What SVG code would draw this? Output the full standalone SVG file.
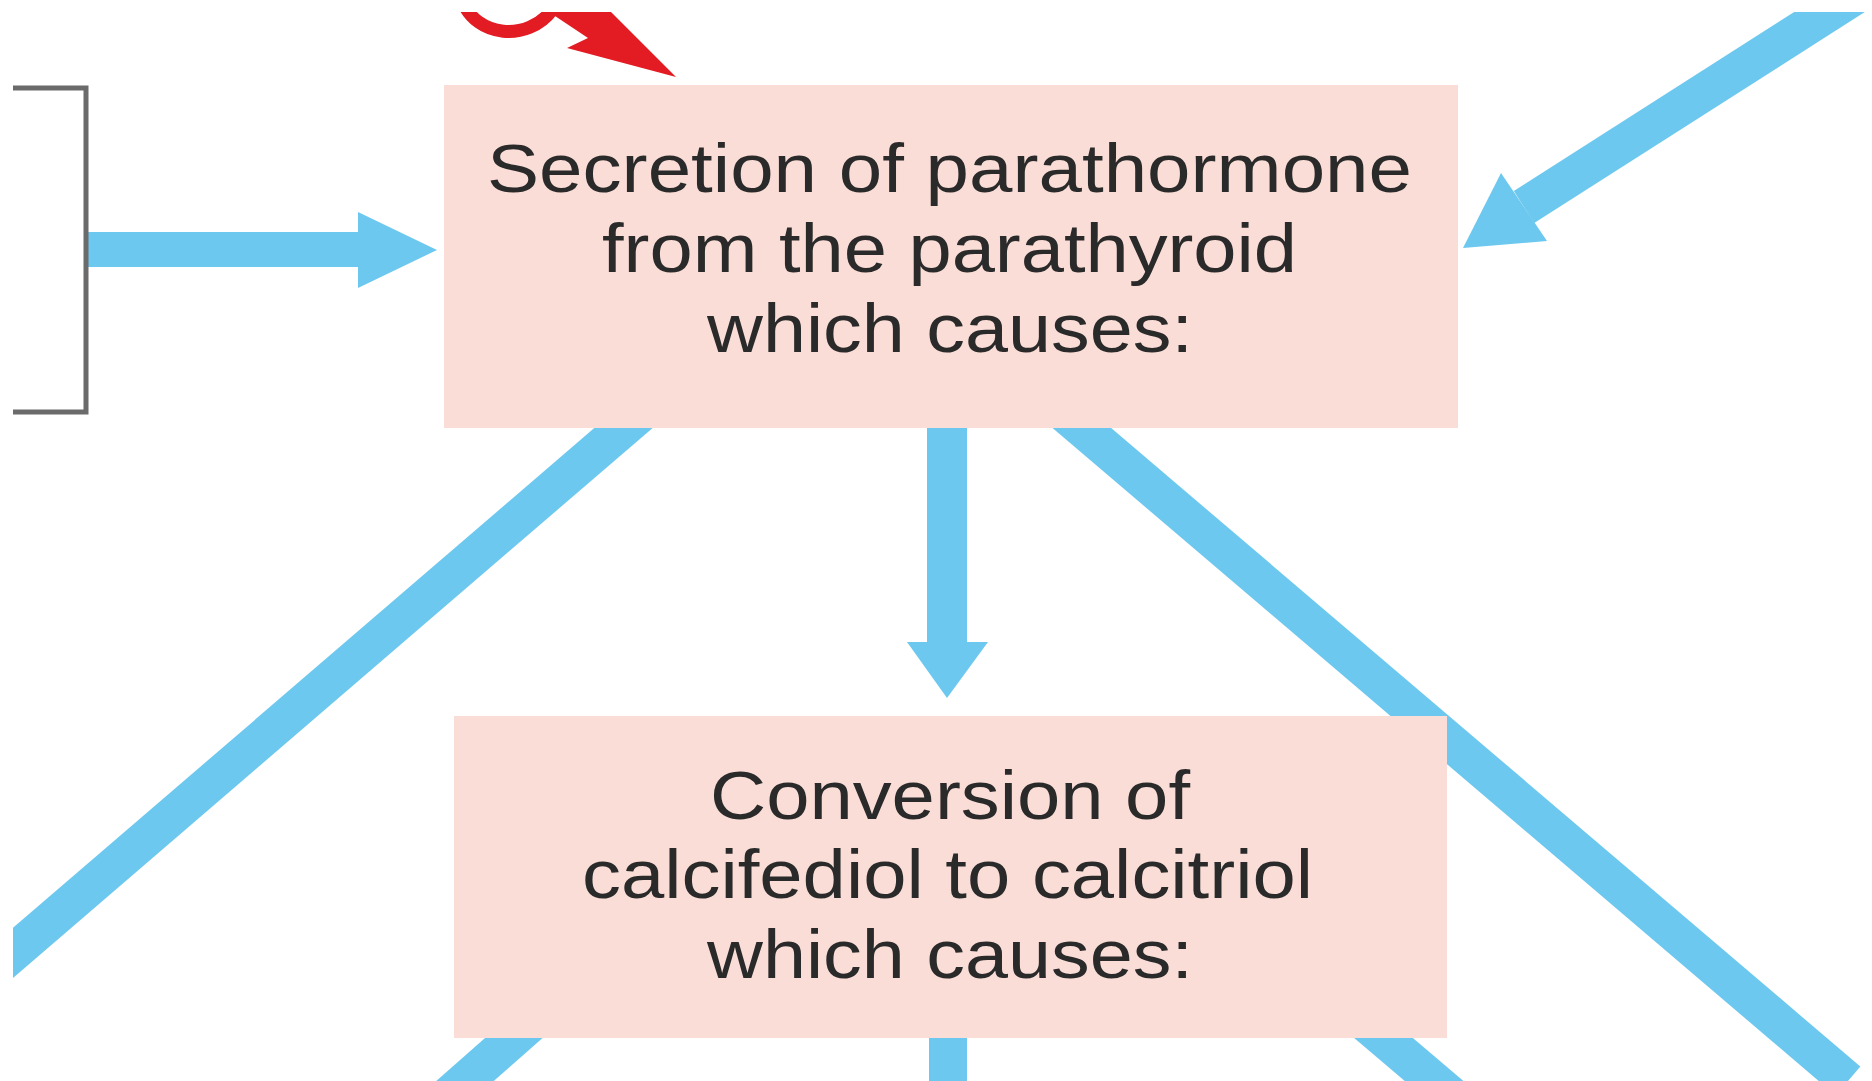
<svg xmlns="http://www.w3.org/2000/svg" width="1872" height="1081" viewBox="0 0 1872 1081">
<defs>
<clipPath id="frame"><rect x="13" y="12" width="1859" height="1069"/></clipPath>
<style>
.box{fill:#FADDD6}
.lbl{font-family:"Liberation Sans",Arial,Helvetica,sans-serif;font-size:68px;fill:#2a2a2a}
.flow{stroke:#6DC8EF;stroke-width:38;fill:none;stroke-linecap:butt}
.head{fill:#6DC8EF}
.red{stroke:#E31B23;stroke-width:13;fill:none;stroke-linecap:round}
.redhead{fill:#E31B23}
</style>
</defs>
<rect width="1872" height="1081" fill="#ffffff"/>
<g id="connectors" clip-path="url(#frame)">
  <line class="flow" x1="84" y1="249.5" x2="362" y2="249.5" style="stroke-width:35"/>
  <polygon class="head" points="358,212 437,250 358,288"/>
  <line class="flow" x1="1524" y1="207" x2="1900" y2="-33"/>
  <polygon class="head" points="1463,248 1501,173 1547,241"/>
  <line class="flow" x1="947" y1="420" x2="947" y2="644" style="stroke-width:40"/>
  <polygon class="head" points="907,642 988,642 947,698"/>
  <line class="flow" x1="656" y1="400" x2="-136" y2="1081"/>
  <line class="flow" x1="1049" y1="400" x2="1848" y2="1081"/>
  <line class="flow" x1="540" y1="1015" x2="440" y2="1103"/>
  <line class="flow" x1="948" y1="1020" x2="948" y2="1090"/>
  <line class="flow" x1="1360" y1="1018" x2="1460" y2="1103"/>
  <path class="red" d="M462,0 C476,38 528,42 552,10"/>
  <polygon class="redhead" points="676,77 567,48 588,38 543,8 545,0 599,0"/>
</g>
<g id="node-left-bracket">
  <path d="M13,88 H86 V412 H13" fill="none" stroke="#6b6b6b" stroke-width="5"/>
</g>
<g id="node-parathormone">
  <rect class="box" x="444" y="85" width="1014" height="343"/>
  <text class="lbl" x="487" y="192" textLength="925" lengthAdjust="spacingAndGlyphs">Secretion of parathormone</text>
  <text class="lbl" x="602" y="272" textLength="695" lengthAdjust="spacingAndGlyphs">from the parathyroid</text>
  <text class="lbl" x="707" y="352" textLength="486" lengthAdjust="spacingAndGlyphs">which causes:</text>
</g>
<g id="node-calcitriol">
  <rect class="box" x="454" y="716" width="993" height="322"/>
  <text class="lbl" x="710" y="819" textLength="480" lengthAdjust="spacingAndGlyphs">Conversion of</text>
  <text class="lbl" x="582" y="898" textLength="731" lengthAdjust="spacingAndGlyphs">calcifediol to calcitriol</text>
  <text class="lbl" x="707" y="978" textLength="486" lengthAdjust="spacingAndGlyphs">which causes:</text>
</g>
</svg>
